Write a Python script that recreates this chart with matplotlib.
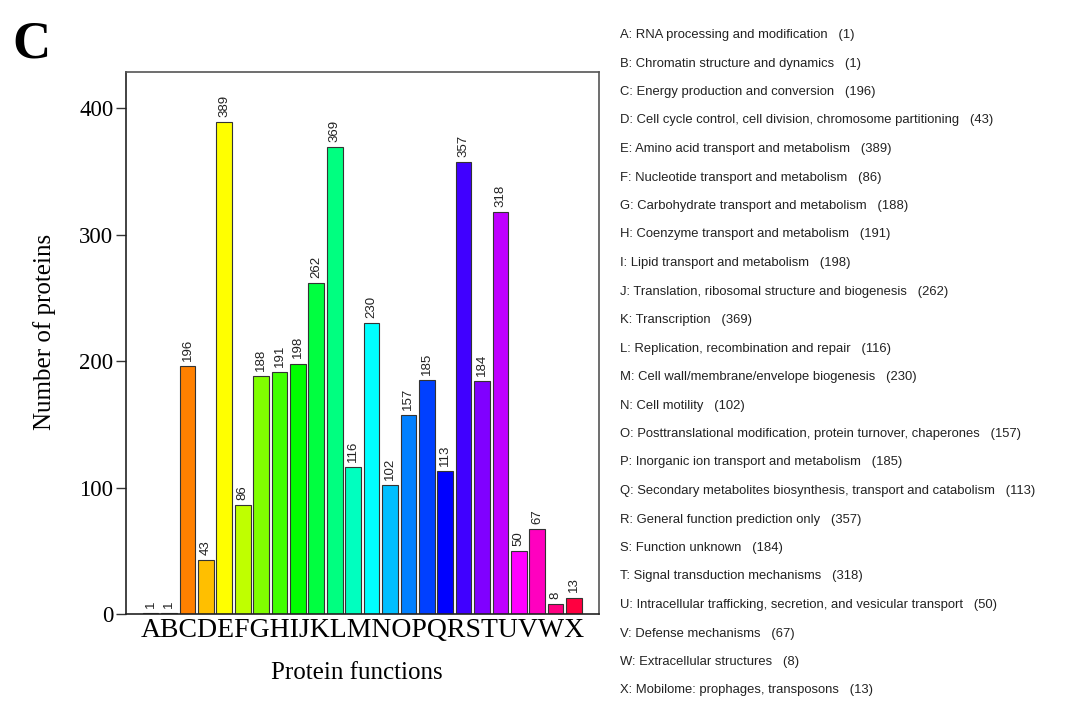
import matplotlib
matplotlib.use("Agg")
import matplotlib.pyplot as plt
import colorsys

categories = list("ABCDEFGHIJKLMNOPQRSTUVWX")
values = [1, 1, 196, 43, 389, 86, 188, 191, 198, 262, 369, 116, 230, 102,
          157, 185, 113, 357, 184, 318, 50, 67, 8, 13]
descriptions = [
    "RNA processing and modification",
    "Chromatin structure and dynamics",
    "Energy production and conversion",
    "Cell cycle control, cell division, chromosome partitioning",
    "Amino acid transport and metabolism",
    "Nucleotide transport and metabolism",
    "Carbohydrate transport and metabolism",
    "Coenzyme transport and metabolism",
    "Lipid transport and metabolism",
    "Translation, ribosomal structure and biogenesis",
    "Transcription",
    "Replication, recombination and repair",
    "Cell wall/membrane/envelope biogenesis",
    "Cell motility",
    "Posttranslational modification, protein turnover, chaperones",
    "Inorganic ion transport and metabolism",
    "Secondary metabolites biosynthesis, transport and catabolism",
    "General function prediction only",
    "Function unknown",
    "Signal transduction mechanisms",
    "Intracellular trafficking, secretion, and vesicular transport",
    "Defense mechanisms",
    "Extracellular structures",
    "Mobilome: prophages, transposons",
]
yticks = [0, 100, 200, 300, 400]

n = len(categories)
colors = [colorsys.hsv_to_rgb(i / n, 1, 1) for i in range(n)]

fig = plt.figure(figsize=(10.66, 7.23), dpi=100)
ax = fig.add_axes([126 / 1066, 1 - 614 / 723, (599 - 126) / 1066, (614 - 72) / 723])

x = list(range(n))
ax.bar(x, values, width=0.85, color=colors, edgecolor="#333333", linewidth=0.8)
for xi, v in zip(x, values):
    ax.text(xi, v + 4, str(v), rotation=90, ha="center", va="bottom",
            fontsize=9.5, family="Liberation Sans", color="#222222")

ax.set_xlim(-1.34, n - 1 + 1.36)
ax.set_ylim(0, 428.5)
ax.set_yticks(yticks)
ax.set_yticklabels([str(t) for t in yticks], family="Liberation Serif", fontsize=16.5)
ax.tick_params(axis="y", length=7, width=1, color="#333333", pad=2)
ax.set_xticks([(n - 1) / 2])
ax.set_xticklabels(["".join(categories)], family="Liberation Serif", fontsize=20)
ax.tick_params(axis="x", length=0, pad=3)
for s in ax.spines.values():
    s.set_color("#555555")
    s.set_linewidth(1.2)
ax.spines["bottom"].set_color("#222222")
ax.spines["left"].set_color("#222222")

ax.set_ylabel("Number of proteins", family="Liberation Serif", fontsize=18)
ax.yaxis.set_label_coords(-0.148, 0.52)
ax.set_xlabel("Protein functions", family="Liberation Serif", fontsize=18)
ax.xaxis.set_label_coords(0.488, -0.088)

fig.text(12 / 1066, 1 - 44 / 723, "C", family="Liberation Serif", fontweight="bold",
         fontsize=38, va="center", ha="left")

for i, (c, d, v) in enumerate(zip(categories, descriptions, values)):
    y = 35 + i * 28.5
    fig.text(620 / 1066, 1 - y / 723, f"{c}: {d}   ({v})", family="Liberation Sans",
             fontsize=9.4, color="#222222", va="center", ha="left")

fig.savefig("out.png", dpi=100)
